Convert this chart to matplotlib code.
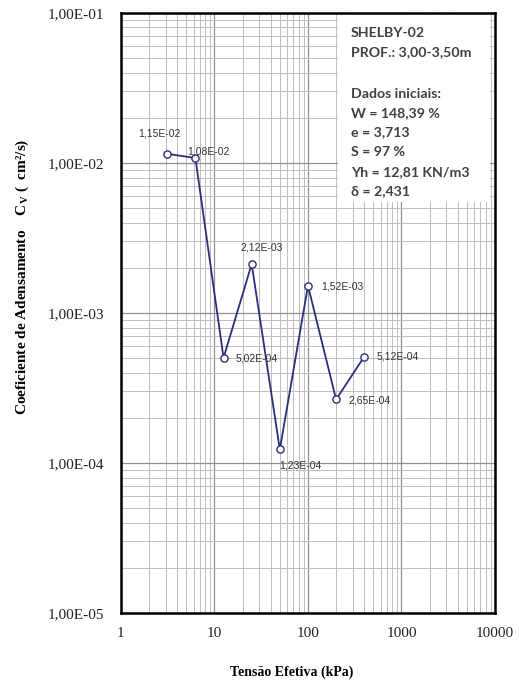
import matplotlib
matplotlib.use("Agg")
import matplotlib.pyplot as plt
from matplotlib.ticker import LogLocator, NullFormatter, FixedLocator, FixedFormatter
import numpy as np

# Effective stress (kPa) and consolidation coefficient Cv (cm²/s)
tensao = [3.125, 6.25, 12.5, 25, 50, 100, 200, 400]
cv = [1.15e-2, 1.08e-2, 5.02e-4, 2.12e-3, 1.23e-4, 1.52e-3, 2.65e-4, 5.12e-4]
rotulos = ["1,15E-02", "1,08E-02", "5,02E-04", "2,12E-03",
           "1,23E-04", "1,52E-03", "2,65E-04", "5,12E-04"]
# label offsets in points (dx, dy) and horizontal alignment
offsets = [(-6, 15, "center"), (9.5, 5, "center"), (8.6, -0.5, "left"), (7, 12, "center"),
           (-0.7, -11.5, "left"), (9.4, -0.7, "left"), (8.6, -0.7, "left"), (8.6, 0, "left")]

y_ticks = [1e-5, 1e-4, 1e-3, 1e-2, 1e-1]
y_ticklabels = ["1,00E-05", "1,00E-04", "1,00E-03", "1,00E-02", "1,00E-01"]
x_ticks = [1, 10, 100, 1000, 10000]
x_ticklabels = ["1", "10", "100", "1000", "10000"]

info_lines = ["SHELBY-02", "PROF.: 3,00-3,50m", "", "Dados iniciais:",
              "W = 148,39 %", "e = 3,713", "S = 97 %", "Yh = 12,81 KN/m3", "δ = 2,431"]

fig = plt.figure(figsize=(5.19, 6.82), dpi=100)
ax = fig.add_axes([0.2331, 0.1012, 0.7206, 0.8798])
ax.set_xscale("log")
ax.set_yscale("log")
ax.set_xlim(1, 10000)
ax.set_ylim(1e-5, 1e-1)

ax.xaxis.set_major_locator(FixedLocator(x_ticks))
ax.xaxis.set_major_formatter(FixedFormatter(x_ticklabels))
ax.yaxis.set_major_locator(FixedLocator(y_ticks))
ax.yaxis.set_major_formatter(FixedFormatter(y_ticklabels))
ax.xaxis.set_minor_locator(LogLocator(base=10, subs=np.arange(2, 10)))
ax.yaxis.set_minor_locator(LogLocator(base=10, subs=np.arange(2, 10)))
ax.xaxis.set_minor_formatter(NullFormatter())
ax.yaxis.set_minor_formatter(NullFormatter())

ax.grid(which="major", color="#909090", linewidth=0.9)
ax.grid(which="minor", color="#bdbdbd", linewidth=0.7)
ax.set_axisbelow(True)
ax.tick_params(which="both", length=0)
ax.tick_params(axis="x", pad=10)
ax.tick_params(axis="y", pad=12)
for lab in ax.get_xticklabels() + ax.get_yticklabels():
    lab.set_fontfamily("Liberation Serif")
    lab.set_fontsize(11)
    lab.set_color("#222222")

for s in ax.spines.values():
    s.set_linewidth(1.8)
    s.set_color("black")

ax.plot(tensao, cv, color="#2c2f78", linewidth=1.3, marker="o", markersize=5.2,
        markerfacecolor="white", markeredgecolor="#2c2f78", markeredgewidth=1.0, zorder=5)

for x, y, t, (dx, dy, ha) in zip(tensao, cv, rotulos, offsets):
    ax.annotate(t, (x, y), xytext=(dx, dy), textcoords="offset points",
                ha=ha, va="center", fontsize=7.5, family="Liberation Sans",
                color="#333333", zorder=6)

# info box
box_x0, box_y0, box_x1, box_y1 = 338 / 519, 1 - 202 / 682, 490 / 519, 1 - 15 / 682
fig.patches.append(plt.Rectangle((box_x0, box_y0), box_x1 - box_x0, box_y1 - box_y0,
                                 transform=fig.transFigure, facecolor="white",
                                 edgecolor="none", zorder=3))
line_y = [33, 52, 72, 94, 113, 132, 152, 172, 191]
for yy, t in zip(line_y, info_lines):
    if t:
        fig.text(351 / 519, 1 - yy / 682, t, fontsize=10.2, family="Lato",
                 fontweight="bold", color="#404040", va="center", ha="left", zorder=4)

fig.text(292 / 519, 1 - 672 / 682, "Tensão Efetiva (kPa)", fontsize=10,
         family="Liberation Serif", fontweight="bold", ha="center", va="center")
fig.text(22 / 519, 1 - 277 / 682, r"Coeficiente de Adensamento    C$_\mathregular{V}$ (  cm²/s)",
         fontsize=11, family="Liberation Serif", fontweight="bold", rotation=90,
         ha="center", va="center")

fig.savefig("out.png", dpi=100)
